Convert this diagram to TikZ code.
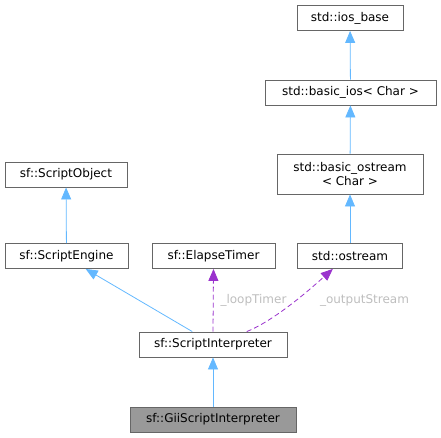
\documentclass[tikz,border=0pt]{standalone}
\usepackage{fontspec}
\setmainfont{DejaVu Sans}
\usetikzlibrary{arrows.meta,calc}
\definecolor{edgeblue}{HTML}{63B8FF}
\definecolor{edgepurple}{HTML}{9A32CD}
\definecolor{boxgray}{HTML}{666666}
\definecolor{labelgray}{HTML}{BEBEBE}
\tikzset{>=latex}
\tikzstyle{classbox}=[rectangle,draw=boxgray,fill=white,line width=0.9pt,minimum height=25pt,inner sep=0pt,font=\fontsize{12}{14}\selectfont,align=center]
\tikzstyle{curclass}=[classbox,fill=black!40]
\tikzstyle{inherit}=[draw=edgeblue,line width=0.8pt,-{Triangle[length=12pt,width=10pt,fill=edgeblue]}]
\tikzstyle{member}=[draw=edgepurple,line width=0.8pt,dash pattern=on 5pt off 3pt,-{Triangle[length=12pt,width=10pt,fill=edgepurple]}]
\tikzstyle{memberlabel}=[text=labelgray,font=\fontsize{12}{14}\selectfont,inner sep=0pt]

\begin{document}
\begin{tikzpicture}[x=1pt,y=-1pt]
\useasboundingbox (0,0) rectangle (441,437);

\node[classbox,minimum width=106pt] (iosbase) at (350,18) {std::ios\_base};
\node[classbox,minimum width=171pt] (basicios) at (350.5,92.5) {std::basic\_ios< Char >};
\node[classbox,minimum width=146pt,minimum height=40pt] (basicostream) at (350,174) {std::basic\_ostream\\< Char >};
\node[classbox,minimum width=105pt] (ostream) at (350,256) {std::ostream};

\node[classbox,minimum width=122pt] (scriptobject) at (66,174.5) {sf::ScriptObject};
\node[classbox,minimum width=123pt] (scriptengine) at (66.5,256) {sf::ScriptEngine};
\node[classbox,minimum width=123pt] (elapsetimer) at (213.5,256) {sf::ElapseTimer};

\node[classbox,minimum width=148pt] (interp) at (213,344.5) {sf::ScriptInterpreter};
\node[curclass,minimum width=166pt] (giiinterp) at (213,419.5) {sf::GiiScriptInterpreter};

% inheritance
\draw[inherit] (basicios) -- (iosbase);
\draw[inherit] (basicostream) -- (basicios);
\draw[inherit] (ostream) -- (basicostream);
\draw[inherit] (scriptengine) -- (scriptobject);
\draw[inherit] (interp.148) -- (scriptengine.-34);
\draw[inherit] (giiinterp) -- (interp);

% members
\draw[member] (interp.north) -- (elapsetimer.south);
\draw[member] (interp.21) .. controls +(30,-12) and +(-18,16) .. (ostream.217);

\node[memberlabel] (looptimerlbl) at (253.5,300) {\_loopTimer};
\node[memberlabel] (outstreamlbl) at (364.5,300) {\_outputStream};

\end{tikzpicture}
\end{document}
